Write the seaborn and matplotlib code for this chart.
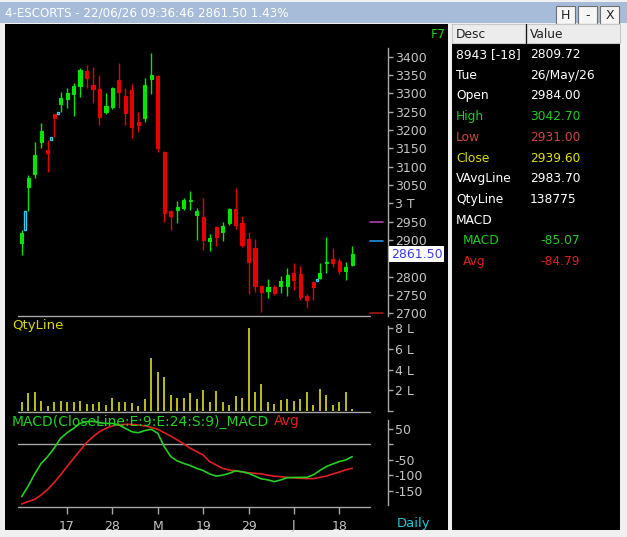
import numpy as np
import pandas as pd
import seaborn as sns
import matplotlib
matplotlib.use('Agg')
import matplotlib.pyplot as plt
from matplotlib.patches import Rectangle

# ---- data ----
opens = [2891, 3045, 3079, 3168, 3145, 3243, 3270, 3285, 3298, 3320,
         3362, 3322, 3311, 3250, 3264, 3336, 3292, 3310, 3222, 3233,
         3339, 3348, 3141, 2980, 2983, 2986, 3007, 2967, 2963, 2896,
         2936, 2923, 2946, 2984.0, 2947, 2902, 2877, 2774, 2761, 2773,
         2775, 2774, 2809, 2807, 2747, 2786, 2797, 2836, 2847, 2844,
         2816, 2833]
highs = [2927, 3077, 3168, 3218, 3173, 3245, 3305, 3314, 3329, 3369,
         3377, 3372, 3350, 3301, 3318, 3382, 3315, 3326, 3250, 3341,
         3409, 3350, 3143, 2982, 3006, 3014, 3033, 2986, 3014, 2916,
         2939, 2950, 2987, 3042.7, 2965, 2923, 2902, 2777, 2793, 2777,
         2802, 2823, 2836, 2829, 2754, 2788, 2836, 2907, 2877, 2850,
         2841, 2884]
lows = [2858, 2978, 3070, 3152, 3086, 3180, 3248, 3261, 3238, 3291,
        3315, 3275, 3214, 3243, 3256, 3259, 3215, 3178, 3195, 3222,
        3299, 3141, 2950, 2928, 2947, 2981, 2982, 2900, 2873, 2869,
        2884, 2896, 2941, 2931.0, 2881, 2754, 2759, 2704, 2741, 2749,
        2756, 2747, 2764, 2736, 2714, 2736, 2794, 2811, 2825, 2807,
        2791, 2829]
closes = [2920, 3068, 3132, 3197, 3138, 3232, 3287, 3300, 3320, 3364,
          3341, 3311, 3236, 3265, 3314, 3305, 3246, 3209, 3214, 3322,
          3349, 3150, 2975, 2966, 2990, 3009, 3010, 2978, 2900, 2906,
          2909, 2938, 2984, 2939.6, 2886, 2840, 2775, 2759, 2773, 2755,
          2789, 2804, 2791, 2745, 2735, 2771, 2811, 2841, 2836, 2816,
          2827, 2861.5]
qty_lakh = [0.9, 1.7, 1.8, 1.0, 0.5, 0.9, 1.0, 0.9, 0.9, 1.0,
            0.7, 0.7, 0.9, 0.6, 1.3, 0.9, 0.9, 0.8, 0.5, 1.2,
            5.1, 3.8, 3.3, 1.5, 1.3, 1.3, 1.7, 1.2, 2.0, 0.9,
            1.9, 0.9, 0.6, 1.4, 1.3, 8.0, 1.8, 2.6, 0.9, 0.7,
            1.1, 1.2, 1.0, 1.2, 1.8, 0.6, 2.1, 1.5, 0.6, 0.9,
            1.8, 0.2]
macd = [-168, -134, -95, -61, -39, -12, 20, 38, 52, 68,
        74, 75, 70, 68, 68, 63, 52, 41, 38, 45,
        49, 36, -7, -39, -53, -61, -68, -77, -84, -95,
        -102, -99, -93, -85.07, -88, -93, -102, -111, -114, -120,
        -114, -107, -106, -106, -106, -98, -84, -71, -63, -55,
        -50, -39]
macd_avg = [-192, -184, -177, -163, -145, -123, -98, -71, -45, -20,
            6, 25, 41, 52, 60, 64, 65, 65, 63, 60,
            55, 49, 38, 27, 15, 2, -12, -23, -34, -55,
            -66, -77, -82, -84.79, -88, -91, -93, -95, -99, -102,
            -104, -106, -108, -109, -110, -110, -106, -102, -95, -89,
            -82, -77]

date_tick_idx = [7, 14, 21, 28, 35, 42, 49]
date_tick_labels = ['17', '28', 'M', '19', '29', 'J', '18']
price_ticks = [2700, 2750, 2800, 2850, 2900, 2950, 3000, 3050,
               3100, 3150, 3200, 3250, 3300, 3350, 3400]
# 2850 sits under the last-price box
price_tick_labels = ['2700', '2750', '2800', '', '2900', '2950', '3 T', '3050',
                     '3100', '3150', '3200', '3250', '3300', '3350', '3400']
qty_ticks = [0, 2, 4, 6, 8]
qty_tick_labels = ['', '2 L', '4 L', '6 L', '8 L']
macd_ticks = [-150, -100, -50, 0, 50]
macd_tick_labels = ['-150', '-100', '-50', '', '50']
level_marks = [2948, 2898, 2700]
level_colors = ['#b040b0', '#2a8ee0', '#a01818']
last_price = 2861.50

title = '4-ESCORTS - 22/06/26 09:36:46 2861.50 1.43%'
info_desc = ['8943 [-18]', 'Tue', 'Open', 'High', 'Low', 'Close',
             'VAvgLine', 'QtyLine', 'MACD', 'MACD', 'Avg']
info_value = ['2809.72', '26/May/26', '2984.00', '3042.70', '2931.00', '2939.60',
              '2983.70', '138775', '', '-85.07', '-84.79']
info_colors = ['white', 'white', 'white', '#22cc22', '#cc4444', '#e0e000',
               'white', 'white', 'white', '#22cc22', '#dd1f1f']

GREEN = '#00e600'
RED = '#e60000'
CYAN = '#38c8e8'
GREY = '#c4c4c4'
LINE = '#a8a8a8'

sns.set_theme(style='dark', rc={'axes.facecolor': 'none', 'figure.facecolor': '#f0f0f0',
                                'axes.grid': False})
plt.rcParams['font.family'] = ['DejaVu Sans']

W, H = 627, 537
fig = plt.figure(figsize=(W / 100, H / 100), dpi=100)


def px_box(x0, y0, x1, y1):
    return [x0 / W, 1 - y1 / H, (x1 - x0) / W, (y1 - y0) / H]


def px_rect(x0, y0, x1, y1, **kw):
    b = px_box(x0, y0, x1, y1)
    kw.setdefault('zorder', -5)
    fig.add_artist(Rectangle((b[0], b[1]), b[2], b[3], transform=fig.transFigure, **kw))


def px_text(x, y, s, **kw):
    return fig.text(x / W, 1 - y / H, s, **kw)


# window chrome
px_rect(0, 2, 627, 23, color='#a6bcd8', lw=0)
px_text(5, 13, title, color='white', fontsize=8.6, va='center')
for x0, lab in zip([556, 578, 600], ['H', '-', 'X']):
    px_rect(x0, 6, x0 + 19, 24, fc='#f6f6f6', ec='#707070', lw=0.8, zorder=-4)
    px_text(x0 + 9.5, 15.5, lab, color='#202020', fontsize=9, ha='center', va='center')

px_rect(5, 24, 448, 530, color='black', lw=0)
px_rect(452, 24, 620, 530, color='black', lw=0)
px_rect(452, 24, 525, 43, fc='#ececec', ec='#c8c8c8', lw=0.8, zorder=-4)
px_rect(527, 24, 620, 43, fc='#ececec', ec='#c8c8c8', lw=0.8, zorder=-4)
px_text(456, 34, 'Desc', color='#202020', fontsize=8.8, va='center')
px_text(530, 34, 'Value', color='#202020', fontsize=8.8, va='center')

for k, (d, v, c) in enumerate(zip(info_desc, info_value, info_colors)):
    y = 54.5 + 20.7 * k
    sub = k >= 9
    px_text(463 if sub else 456, y, d, color=c, fontsize=8.8, va='center')
    px_text(540 if sub else 530, y, v, color=c, fontsize=8.8, va='center')

# panels
ax_p = fig.add_axes(px_box(5, 30, 387.7, 316))
ax_v = fig.add_axes(px_box(5, 318, 387.7, 412))
ax_m = fig.add_axes(px_box(5, 412, 387.7, 507))

idx = np.arange(len(closes))
o = np.array(opens)
c = np.array(closes)
col = np.where(c >= o, GREEN, RED)

xlim = (-2.58, 56.48)
for ax in (ax_p, ax_v, ax_m):
    ax.set_xlim(*xlim)
    ax.set_facecolor('none')
    ax.patch.set_alpha(0)
    for s in ('top', 'left', 'bottom'):
        ax.spines[s].set_visible(False)
    ax.spines['right'].set_color(LINE)
    ax.spines['right'].set_linewidth(1)
    ax.yaxis.tick_right()
    ax.tick_params(axis='y', which='both', direction='out', length=3.5, width=1,
                   color=LINE, labelcolor=GREY, labelsize=9, pad=1.5, right=True, left=False)
    ax.grid(False)
    # panel base line
    ax.plot([0.034, 0.954], [0, 0], transform=ax.transAxes, color=LINE, lw=1, clip_on=False)

# candles
ax_p.vlines(idx, lows, highs, colors=col, lw=1, zorder=3)
ax_p.bar(idx, np.abs(c - o), bottom=np.minimum(o, c), width=0.48, color=col,
         edgecolor=col, lw=0.8, zorder=4)
for i in range(1, len(closes)):
    if lows[i] > highs[i - 1]:
        ax_p.add_patch(Rectangle((i - 0.62, highs[i - 1]), 0.3, lows[i] - highs[i - 1],
                                 fill=False, ec=CYAN, lw=1, zorder=5))
for lv, lc in zip(level_marks, level_colors):
    ax_p.plot([0.954, 0.988], [lv, lv], transform=ax_p.get_yaxis_transform(),
              color=lc, lw=1.2, clip_on=False)
ax_p.set_ylim(2692.7, 3472.8)
ax_p.set_yticks(price_ticks, price_tick_labels)
ax_p.spines['right'].set_bounds(2692.7, 3425)
ax_p.set_xticks([])
ax_p.text(1.008, last_price, f'{last_price:.2f}', transform=ax_p.get_yaxis_transform(),
          color='#3a3ae8', fontsize=9, va='center', ha='left', clip_on=False, zorder=10,
          bbox=dict(fc='white', ec='none', pad=1.2))
ax_p.text(0.995 + 60 / 382.7, 0.985, 'F7', transform=ax_p.transAxes, color='#22cc22',
          fontsize=9, ha='right', va='center')

# volume
ax_v.vlines(idx, 0, qty_lakh, colors='#cccc1a', lw=1.3)
ax_v.set_ylim(-0.1, 8.99)
ax_v.set_yticks(qty_ticks, qty_tick_labels)
ax_v.spines['right'].set_bounds(0, 8.2)
ax_v.set_xticks([])
ax_v.text(7 / 382.7, 0.925, 'QtyLine', transform=ax_v.transAxes, color='#d8d800',
          fontsize=9.5, va='center')

# MACD
df = pd.DataFrame({'idx': idx, 'MACD': macd, 'Avg': macd_avg})
sns.lineplot(data=df, x='idx', y='Avg', color='#e02020', lw=1.2, ax=ax_m, zorder=3)
sns.lineplot(data=df, x='idx', y='MACD', color='#22d022', lw=1.2, ax=ax_m, zorder=4)
ax_m.plot([0.034, 0.954], [0, 0], transform=ax_m.get_yaxis_transform(), color=LINE, lw=1)
ax_m.set_ylim(-201.6, 104.8)
ax_m.set_yticks(macd_ticks, macd_tick_labels)
ax_m.spines['right'].set_bounds(-195, 79)
ax_m.set_xlabel('')
ax_m.set_ylabel('')
ax_m.set_xticks(date_tick_idx, date_tick_labels)
ax_m.tick_params(axis='x', direction='out', length=5, width=1, color=LINE,
                 labelcolor=GREY, labelsize=9, pad=4, bottom=True)
t1 = ax_m.text(7 / 382.7, 0.9, 'MACD(CloseLine:E:9:E:24:S:9)_MACD', transform=ax_m.transAxes,
               color='#22d022', fontsize=10, va='center', zorder=6)
ax_m.annotate('Avg', xy=(1, 0.5), xycoords=t1, xytext=(3, 0), textcoords='offset points',
              color='#e02020', fontsize=10, va='center')
px_text(397, 523, 'Daily', color='#22c4d4', fontsize=9.5, va='center')

fig.savefig('out.png', dpi=100)
